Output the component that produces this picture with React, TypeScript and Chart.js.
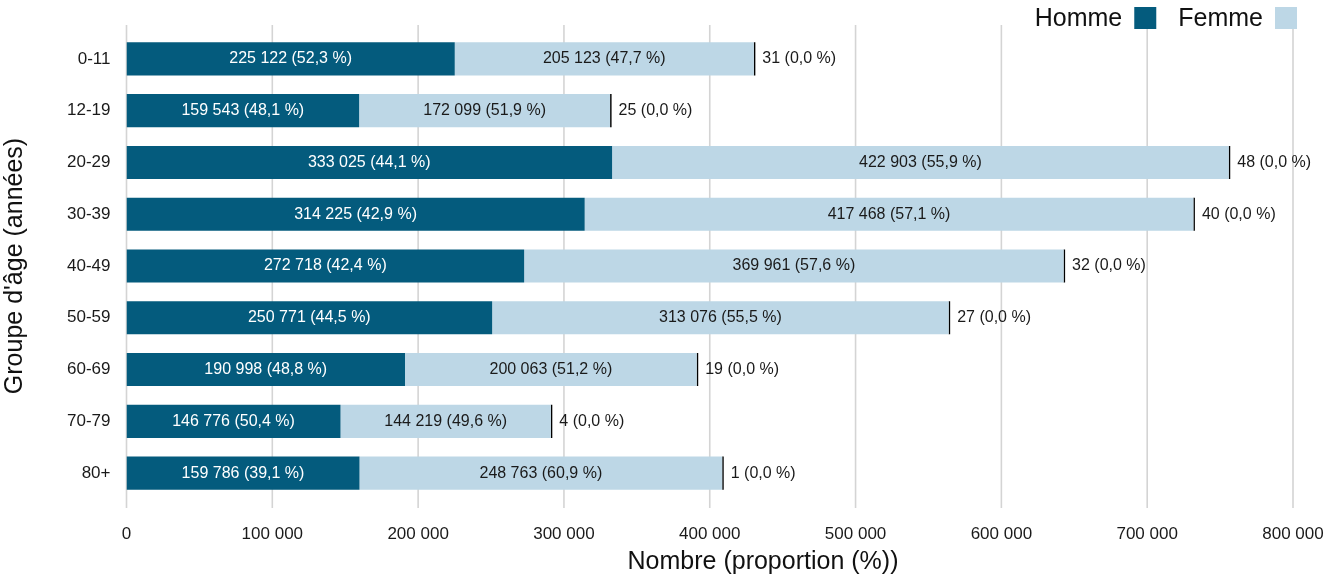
import React, { useEffect, useRef } from "react";
import { Chart, registerables } from "chart.js";

Chart.register(...registerables);

const categories = ["0-11", "12-19", "20-29", "30-39", "40-49", "50-59", "60-69", "70-79", "80+"];
const homme = [225122, 159543, 333025, 314225, 272718, 250771, 190998, 146776, 159786];
const femme = [205123, 172099, 422903, 417468, 369961, 313076, 200063, 144219, 248763];
const autre = [31, 25, 48, 40, 32, 27, 19, 4, 1];
const seriesLabels = ["Homme", "Femme", "Autre"];
const xMin = 0;
const xMax = 800000;
const xStep = 100000;
const xTitle = "Nombre (proportion (%))";
const yTitle = "Groupe d'âge (années)";

const FONT = "'Liberation Sans', Arial, Helvetica, sans-serif";
const COL_H = "#045B7D";
const COL_F = "#BDD7E6";
const COL_A = "#000000";
const TEXT = "#1a1a1a";

function fmtNum(v: number): string {
  const s = Math.round(v).toString();
  return s.replace(/\B(?=(\d{3})+(?!\d))/g, " ");
}

function fmtPct(v: number, total: number): string {
  return (total ? (v / total) * 100 : 0).toFixed(1).replace(".", ",") + " %";
}

const gridPlugin = {
  id: "customGrid",
  beforeDatasetsDraw(chart: any) {
    const { ctx, chartArea } = chart;
    const xs = chart.scales.x;
    ctx.save();
    ctx.strokeStyle = "#d4d4d4";
    ctx.lineWidth = 1.6;
    for (let v = xMin; v <= xMax; v += xStep) {
      const x = xs.getPixelForValue(v);
      ctx.beginPath();
      ctx.moveTo(x, chartArea.top - 8);
      ctx.lineTo(x, chartArea.bottom + 9);
      ctx.stroke();
    }
    ctx.restore();
  },
};

const labelPlugin = {
  id: "barLabels",
  afterDatasetsDraw(chart: any) {
    const { ctx } = chart;
    ctx.save();
    ctx.font = `16px ${FONT}`;
    ctx.textBaseline = "middle";
    const totals = categories.map((_, i) => homme[i] + femme[i] + autre[i]);
    chart.data.datasets.forEach((ds: any, di: number) => {
      const meta = chart.getDatasetMeta(di);
      meta.data.forEach((el: any, i: number) => {
        const v = ds.data[i] as number;
        const txt = `${fmtNum(v)} (${fmtPct(v, totals[i])})`;
        if (di === 2) {
          ctx.textAlign = "left";
          ctx.fillStyle = TEXT;
          ctx.fillText(txt, Math.max(el.x, el.base) + 7, el.y);
        } else {
          ctx.textAlign = "center";
          ctx.fillStyle = di === 0 ? "#ffffff" : TEXT;
          ctx.fillText(txt, (el.x + el.base) / 2, el.y);
        }
      });
    });
    ctx.restore();
  },
};

const legendPlugin = {
  id: "customLegend",
  afterDraw(chart: any) {
    const { ctx } = chart;
    ctx.save();
    ctx.font = `25px ${FONT}`;
    ctx.textBaseline = "middle";
    ctx.textAlign = "left";
    const box = 22;
    const gapText = 12;
    const gapItem = 22;
    const cy = 18;
    const items = [
      { label: seriesLabels[0], color: COL_H },
      { label: seriesLabels[1], color: COL_F },
    ];
    let x = 1297;
    for (let k = items.length - 1; k >= 0; k--) {
      const it = items[k];
      ctx.fillStyle = it.color;
      ctx.fillRect(x - box, cy - box / 2, box, box);
      const w = ctx.measureText(it.label).width;
      const tx = x - box - gapText - w;
      ctx.fillStyle = "#111";
      ctx.fillText(it.label, tx, cy + 1);
      x = tx - gapItem;
    }
    ctx.textAlign = "center";
    ctx.fillStyle = "#111";
    ctx.fillText(xTitle, 763, 562);
    ctx.restore();
  },
};

export default function App() {
  const ref = useRef<HTMLCanvasElement | null>(null);
  useEffect(() => {
    if (!ref.current) return;
    const chart = new Chart(ref.current, {
      type: "bar",
      data: {
        labels: categories,
        datasets: [
          { label: seriesLabels[0], data: homme, backgroundColor: COL_H, borderWidth: 0 },
          { label: seriesLabels[1], data: femme, backgroundColor: COL_F, borderWidth: 0 },
          { label: seriesLabels[2], data: autre, backgroundColor: COL_A, borderWidth: 0, minBarLength: 1.5 } as any,
        ],
      },
      options: {
        indexAxis: "y",
        animation: false,
        responsive: true,
        maintainAspectRatio: false,
        datasets: { bar: { barPercentage: 0.64, categoryPercentage: 1 } },
        layout: { padding: { top: 33, right: 39, left: 0, bottom: 0 } },
        plugins: {
          legend: { display: false },
          tooltip: { enabled: false },
          title: { display: false },
        },
        scales: {
          x: {
            type: "linear",
            stacked: true,
            min: xMin,
            max: xMax,
            grid: { display: false, drawTicks: false },
            border: { display: false },
            ticks: {
              stepSize: xStep,
              padding: 25,
              color: TEXT,
              font: { size: 17, family: FONT },
              callback: (v: any) => fmtNum(Number(v)),
            },
            afterFit: (s: any) => {
              s.height = 80;
              s.paddingRight = 0;
              s.paddingLeft = 0;
            },
          },
          y: {
            type: "category",
            stacked: true,
            offset: true,
            grid: { display: false, drawTicks: false },
            border: { display: false },
            ticks: { padding: 16, color: TEXT, font: { size: 17, family: FONT } },
            title: {
              display: true,
              text: yTitle,
              color: "#111",
              font: { size: 25, family: FONT },
              padding: { top: 0, bottom: 0 },
            },
            afterFit: (s: any) => {
              s.width = 126.5;
            },
          },
        },
      },
      plugins: [gridPlugin, labelPlugin, legendPlugin],
    });
    return () => chart.destroy();
  }, []);
  return (
    <div style={{ position: "absolute", left: 0, top: 0, width: 1332, height: 579, background: "#fff" }}>
      <canvas ref={ref} />
    </div>
  );
}
